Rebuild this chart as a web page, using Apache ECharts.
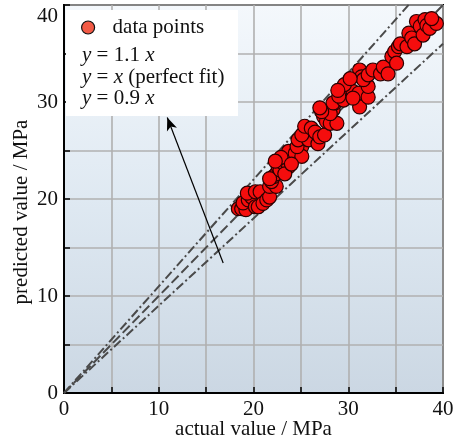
<!DOCTYPE html>
<html>
<head>
<meta charset="utf-8">
<script src="https://cdn.jsdelivr.net/npm/echarts@6/dist/echarts.min.js"></script>
<style>
  html, body { margin: 0; padding: 0; background: #ffffff; }
  #chart { width: 456px; height: 442px; }
</style>
</head>
<body>
<div id="chart"></div>
<script>
// Measured strength (actual) vs. model output (predicted), MPa
const actual = [
  18.4, 18.75, 19.2, 18.9, 19.45, 19.8, 19.35, 20.2, 20.7, 20.2,
  20.5, 21.0, 21.4, 21.7, 21.7, 22.4, 21.9, 22.1, 22.4, 22.6,
  21.7, 22.8, 23.0, 23.7, 23.9, 23.7, 24.4, 25.1, 25.1, 24.6,
  24.7, 25.8, 25.1, 25.4, 26.1, 26.5, 26.8, 27.0, 27.5, 27.4,
  27.7, 28.1, 28.4, 28.8, 28.1, 28.6, 27.2, 27.0, 28.4, 29.5,
  30.0, 30.5, 31.1, 31.2, 30.5, 32.1, 32.1, 31.2, 31.4, 31.6,
  32.1, 32.6, 33.4, 33.7, 34.2, 34.6, 34.9, 35.1, 35.3, 35.5,
  36.2, 36.4, 36.7, 37.0, 37.2, 37.6, 37.9, 38.1, 38.3, 38.6,
  39.3, 38.8, 22.9, 23.3, 24.0, 22.3, 29.0, 29.6, 28.9, 30.2
];
const predicted = [
  19.0, 19.0, 18.9, 19.6, 19.9, 20.2, 20.6, 20.75, 20.75, 19.2,
  19.2, 19.55, 19.9, 20.2, 21.3, 21.3, 21.8, 22.3, 22.6, 23.3,
  22.1, 23.0, 23.8, 23.3, 24.4, 24.9, 24.7, 25.4, 24.4, 25.4,
  26.1, 26.1, 26.6, 27.5, 27.3, 26.9, 25.7, 26.4, 26.6, 28.5,
  28.0, 27.8, 29.2, 27.8, 28.8, 29.9, 29.0, 29.4, 29.9, 30.2,
  31.4, 31.1, 30.9, 29.5, 30.4, 30.5, 31.6, 33.3, 32.6, 32.3,
  32.8, 33.3, 32.9, 33.6, 32.9, 34.7, 35.2, 34.0, 35.7, 36.0,
  35.7, 37.1, 36.6, 36.0, 38.3, 37.8, 36.9, 38.5, 37.9, 37.6,
  38.1, 38.6, 24.3, 22.6, 23.6, 23.9, 30.6, 31.8, 31.2, 32.4
];

// Reference lines y = k·x
const refSlopes = [1.1, 1.0, 0.9];
const refNames = ['y = 1.1 x', 'y = x (perfect fit)', 'y = 0.9 x'];

// Axis range and labelled ticks
const axisMin = 0;
const axisMax = 40;
const gridStep = 5;
const labelledTicks = [0, 10, 20, 30, 40];

// Arrow from the band up to the legend box (data coordinates)
const arrowFrom = [16.8, 13.4];
const arrowTo = [10.9, 28.4];

const SERIF = '"Liberation Serif", "DejaVu Serif", serif';
const FS = 21;

const chart = echarts.init(document.getElementById('chart'), null, { renderer: 'canvas' });

const points = actual.map((a, i) => [a, predicted[i]]);

const dashPatterns = [[9, 3, 2, 3], [10, 4], [9, 3, 2, 3]];
const refSeries = refSlopes.map((k, i) => ({
  name: refNames[i],
  type: 'line',
  data: [[axisMin, axisMin * k], [axisMax, axisMax * k]],
  symbol: 'none',
  clip: true,
  silent: true,
  z: 3,
  lineStyle: { color: '#4a4a4a', width: 2, type: dashPatterns[i] }
}));

function tickLabel(v) {
  return labelledTicks.indexOf(v) >= 0 ? String(v) : '';
}

const axisCommon = {
  type: 'value',
  min: axisMin,
  max: axisMax,
  interval: gridStep,
  axisLine: { show: true, onZero: false, lineStyle: { color: '#000', width: 2 } },
  axisTick: { show: true, inside: true, length: 6, lineStyle: { color: '#000', width: 1.5 } },
  splitLine: { show: true, lineStyle: { color: '#b0b0b0', width: 1.6 } },
  nameLocation: 'middle',
  nameMoveOverlap: false,
  nameTextStyle: { fontFamily: SERIF, fontSize: FS, color: '#111' }
};

const option = {
  animation: false,
  backgroundColor: '#ffffff',
  grid: {
    show: true,
    left: 64, right: 13, top: 5, bottom: 49,
    containLabel: false,
    outerBoundsMode: 'none',
    backgroundColor: new echarts.graphic.LinearGradient(0, 0, 0, 1, [
      { offset: 0, color: '#f4f8fc' },
      { offset: 0.5, color: '#dfe9f2' },
      { offset: 1, color: '#cbd7e3' }
    ]),
    borderColor: '#000',
    borderWidth: 2
  },
  xAxis: Object.assign({}, axisCommon, {
    name: 'actual value / MPa',
    nameGap: 26,
    axisLabel: {
      formatter: tickLabel, margin: 6,
      fontFamily: SERIF, fontSize: FS, color: '#111'
    }
  }),
  yAxis: Object.assign({}, axisCommon, {
    name: 'predicted value / MPa',
    nameGap: 32,
    nameTextStyle: { fontFamily: SERIF, fontSize: FS, color: '#111', padding: [0, 26, 0, 0] },
    axisLabel: {
      formatter: v => (v === axisMax ? '{t|' + v + '}' : tickLabel(v)),
      margin: 6,
      fontFamily: SERIF, fontSize: FS, color: '#111',
      rich: { t: { fontFamily: SERIF, fontSize: FS, color: '#111', padding: [22, 0, 0, 0] } }
    }
  }),
  legend: {
    show: true,
    left: 81, top: 17,
    z: 20,
    icon: 'circle',
    itemWidth: 13, itemHeight: 13,
    padding: 0,
    data: [{
      name: 'data points',
      itemStyle: { color: '#f25a45', borderColor: '#111', borderWidth: 1.2 }
    }],
    formatter: '{a|{name}}',
    textStyle: {
      fontFamily: SERIF, fontSize: FS, color: '#111',
      rich: { a: { fontFamily: SERIF, fontSize: FS, color: '#111', padding: [0, 0, 0, 13] } }
    }
  },
  graphic: [
    {
      type: 'rect', z: 15, silent: true,
      shape: { x: 66, y: 10, width: 172, height: 106 },
      style: { fill: '#ffffff' }
    },
    {
      type: 'text', z: 16, silent: true,
      left: 82, top: 45,
      style: {
        text: refSlopes.map((k, i) =>
          k === 1 ? '{i|y} = {i|x} (perfect fit)' : '{i|y} = ' + k.toFixed(1) + ' {i|x}'
        ).join('\n'),
        font: FS + 'px ' + SERIF,
        fill: '#111',
        lineHeight: 21.5,
        rich: {
          i: { fontStyle: 'italic', fontFamily: SERIF, fontSize: FS, fill: '#111', lineHeight: 21.5 }
        }
      }
    }
  ],
  series: refSeries.concat([{
    name: 'data points',
    type: 'scatter',
    data: points,
    symbol: 'circle',
    symbolSize: 14,
    clip: true,
    z: 5,
    itemStyle: { color: '#f50d0d', borderColor: '#2a0000', borderWidth: 1.2, opacity: 1 },
    markLine: {
      silent: true,
      symbol: ['none', 'arrow'],
      symbolSize: [8, 13],
      label: { show: false },
      lineStyle: { color: '#000', width: 1.2, type: 'solid' },
      data: [[{ coord: arrowFrom }, { coord: arrowTo }]]
    }
  }])
};

chart.setOption(option);
</script>
</body>
</html>
